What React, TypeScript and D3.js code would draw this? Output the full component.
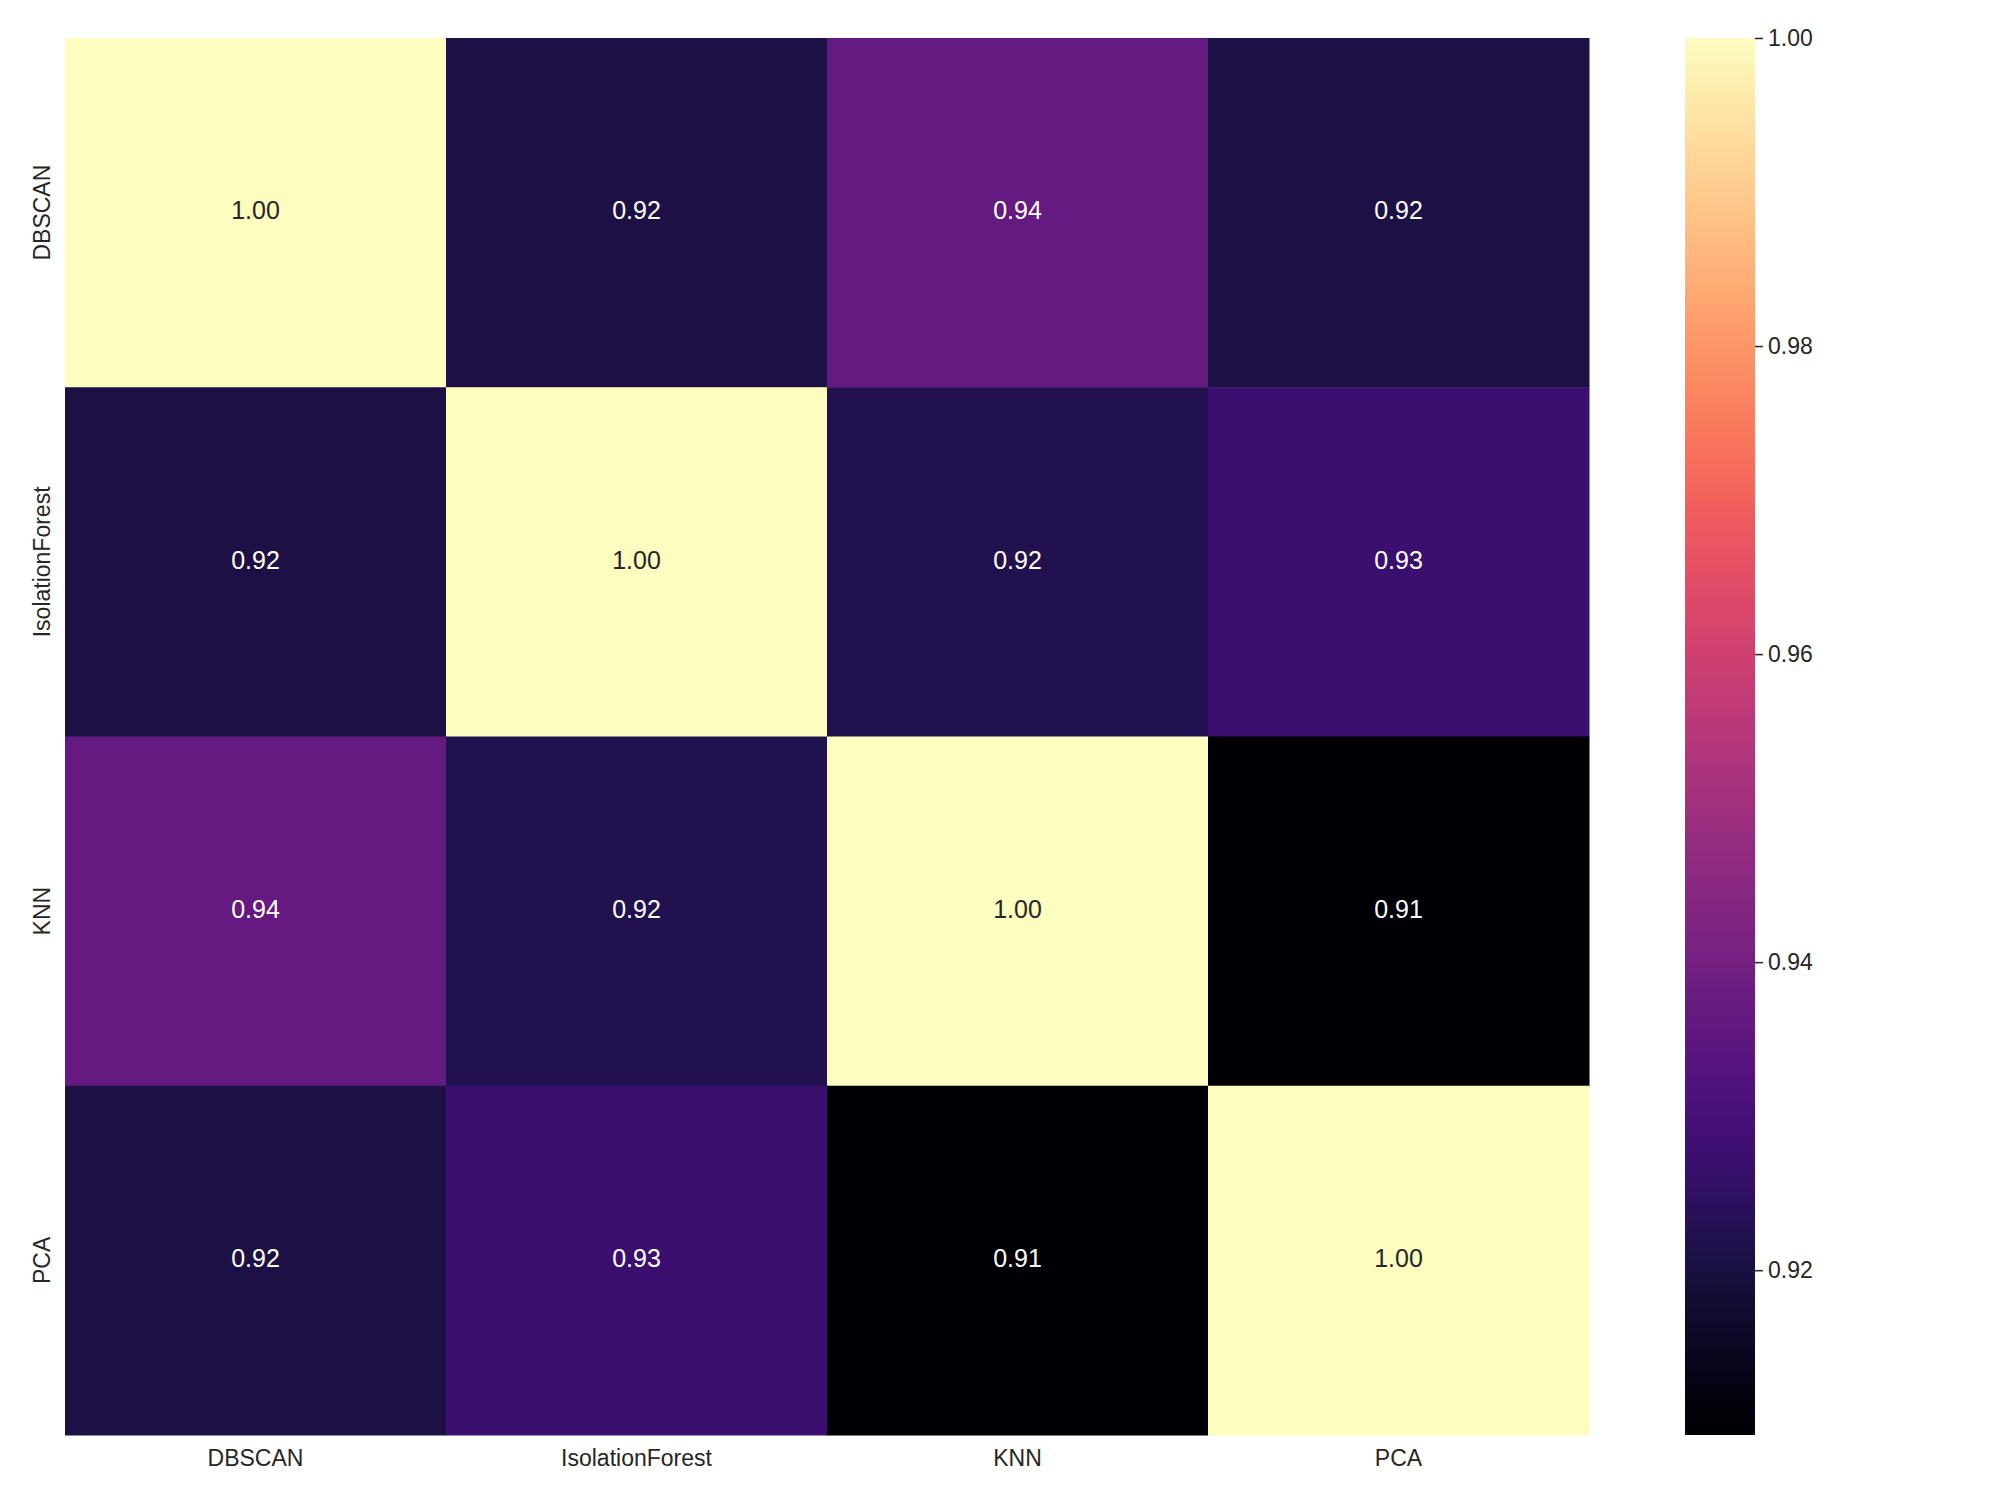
import React, { useEffect, useRef } from 'react';
import * as d3 from 'd3';

const methods = ['DBSCAN', 'IsolationForest', 'KNN', 'PCA'];
// correlation rows, same order as methods
const rowDBSCAN = [1.0, 0.9206, 0.9365, 0.9205];
const rowIsolationForest = [0.9206, 1.0, 0.922, 0.9274];
const rowKNN = [0.9365, 0.922, 1.0, 0.9093];
const rowPCA = [0.9205, 0.9274, 0.9093, 1.0];
const colorbarTicks = [0.92, 0.94, 0.96, 0.98, 1.0];

const matrix = [rowDBSCAN, rowIsolationForest, rowKNN, rowPCA];

function graphRegion() {
    return {
        width: 2000,
        height: 1500,
        left: 65,
        right: 1589,
        top: 38,
        bottom: 1435,
        barLeft: 1685,
        barRight: 1755,
        textColor: '#262626',
        font: '"Liberation Sans", Arial, Helvetica, sans-serif',
    };
}

export default function App() {
    const ref = useRef<SVGSVGElement>(null);

    useEffect(() => {
        const opt = graphRegion();
        const svg = d3.select(ref.current);
        svg.selectAll('*').remove();

        const values = matrix.flat();
        const vmin = d3.min(values) as number;
        const vmax = d3.max(values) as number;
        const color = d3.scaleSequential(d3.interpolateMagma).domain([vmin, vmax]);

        const x = d3.scaleBand().domain(methods).range([opt.left, opt.right]);
        const y = d3.scaleBand().domain(methods).range([opt.top, opt.bottom]);

        const cells = matrix.flatMap((row, i) =>
            row.map((v, j) => ({ row: methods[i], col: methods[j], v }))
        );

        const g = svg.append('g');
        g.selectAll('rect.cell')
            .data(cells)
            .enter()
            .append('rect')
            .attr('class', 'cell')
            .attr('x', (d) => x(d.col) as number)
            .attr('y', (d) => y(d.row) as number)
            .attr('width', x.bandwidth() + 0.5)
            .attr('height', y.bandwidth() + 0.5)
            .attr('fill', (d) => color(d.v));

        g.selectAll('text.annot')
            .data(cells)
            .enter()
            .append('text')
            .attr('class', 'annot')
            .attr('x', (d) => (x(d.col) as number) + x.bandwidth() / 2)
            .attr('y', (d) => (y(d.row) as number) + y.bandwidth() / 2)
            .attr('dy', '0.27em')
            .attr('text-anchor', 'middle')
            .style('font-family', opt.font)
            .style('font-size', '25px')
            .attr('fill', (d) => {
                const c = d3.rgb(color(d.v));
                const lum = d3.hcl(c).l;
                return lum > 50 ? opt.textColor : '#ffffff';
            })
            .text((d) => d3.format('.2f')(d.v));

        // x tick labels
        svg.append('g')
            .selectAll('text')
            .data(methods)
            .enter()
            .append('text')
            .attr('x', (d) => (x(d) as number) + x.bandwidth() / 2)
            .attr('y', 1466)
            .attr('text-anchor', 'middle')
            .style('font-family', opt.font)
            .style('font-size', '23px')
            .attr('fill', opt.textColor)
            .text((d) => d);

        // y tick labels, rotated
        svg.append('g')
            .selectAll('text')
            .data(methods)
            .enter()
            .append('text')
            .attr('transform', (d) => 'translate(49.5, ' + ((y(d) as number) + y.bandwidth() / 2) + ') rotate(-90)')
            .attr('text-anchor', 'middle')
            .style('font-family', opt.font)
            .style('font-size', '23px')
            .attr('fill', opt.textColor)
            .text((d) => d);

        // colorbar
        const defs = svg.append('defs');
        const grad = defs.append('linearGradient')
            .attr('id', 'magmaGrad')
            .attr('x1', 0).attr('y1', 1).attr('x2', 0).attr('y2', 0);
        d3.range(0, 1.0001, 0.02).forEach((t) => {
            grad.append('stop')
                .attr('offset', t)
                .attr('stop-color', d3.interpolateMagma(t));
        });
        svg.append('rect')
            .attr('x', opt.barLeft)
            .attr('y', opt.top)
            .attr('width', opt.barRight - opt.barLeft)
            .attr('height', opt.bottom - opt.top)
            .attr('fill', 'url(#magmaGrad)');

        const barScale = d3.scaleLinear().domain([vmin, vmax]).range([opt.bottom, opt.top]);
        const barAxis = d3.axisRight(barScale)
            .tickValues(colorbarTicks)
            .tickFormat(d3.format('.2f'))
            .tickSizeInner(8)
            .tickSizeOuter(0)
            .tickPadding(5);
        const axisG = svg.append('g')
            .attr('transform', 'translate(' + opt.barRight + ', 0)')
            .call(barAxis);
        axisG.select('.domain').remove();
        axisG.selectAll('line').attr('stroke', opt.textColor).attr('stroke-width', 1.5);
        axisG.selectAll('text')
            .attr('fill', opt.textColor)
            .style('font-family', opt.font)
            .style('font-size', '23px');
    }, []);

    return (
        <svg
            ref={ref}
            width={2000}
            height={1500}
            style={{ position: 'absolute', left: 0, top: 0, background: '#ffffff' }}
        />
    );
}
